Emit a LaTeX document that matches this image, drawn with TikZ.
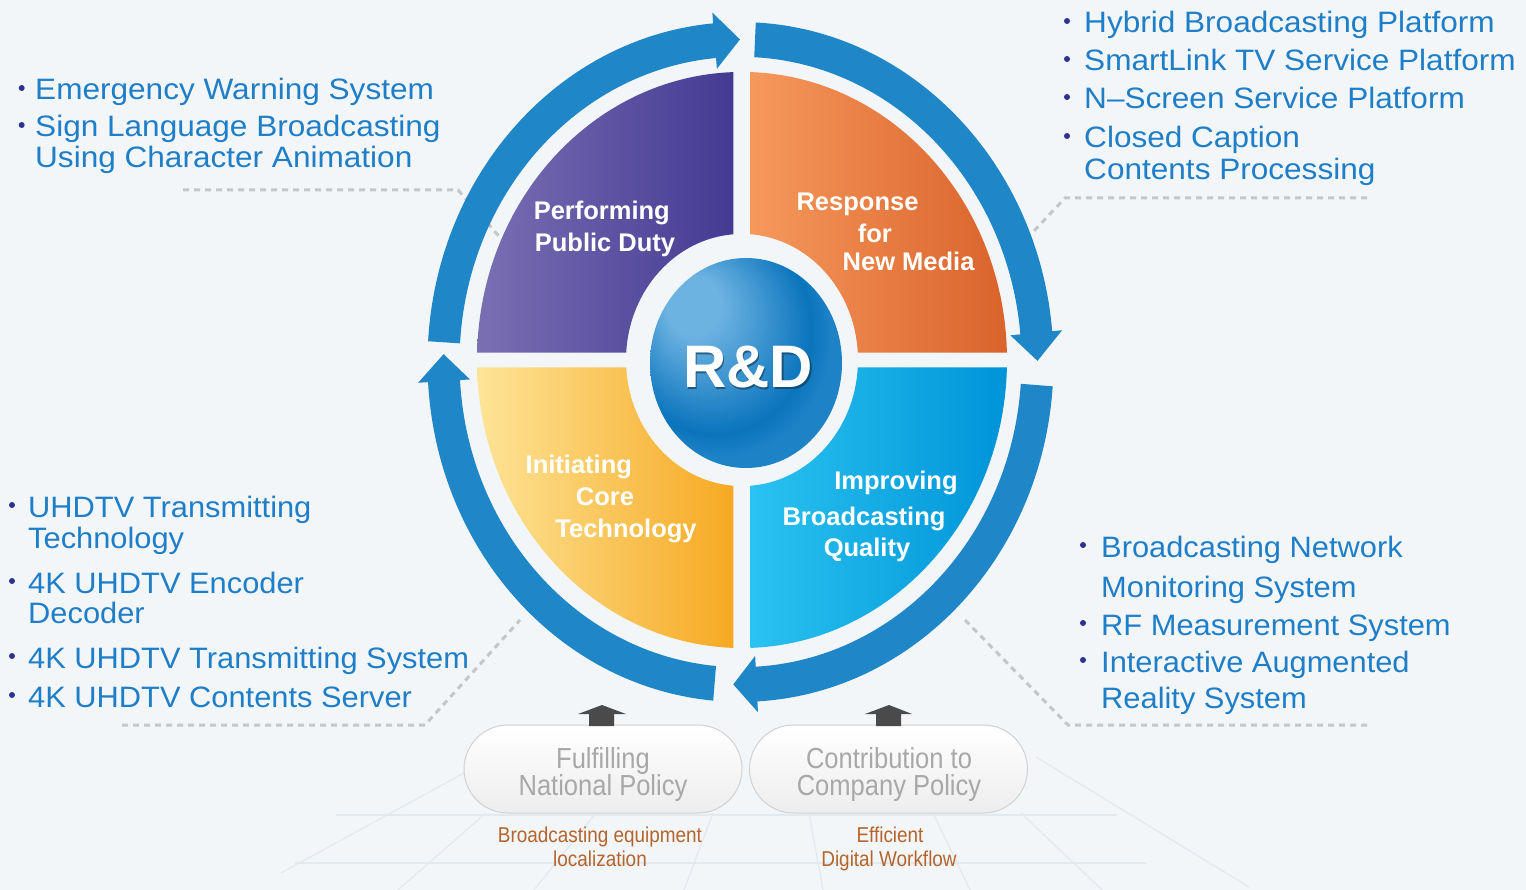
\documentclass[tikz,border=0pt]{standalone}
\usepackage{fontspec}
\setmainfont{Liberation Sans}
\newfontfamily\listfont[FakeStretch=1.07]{Liberation Sans}
\newfontfamily\listfontlow[FakeStretch=1.045]{Liberation Sans}
\newfontfamily\narrowfont[FakeStretch=0.88]{Liberation Sans}
\usetikzlibrary{calc}

\definecolor{bg}{HTML}{F2F6F9}
\definecolor{ringblue}{HTML}{1F87C8}
\definecolor{listblue}{HTML}{1E7EC8}
\definecolor{dotnavy}{HTML}{2E3192}
\definecolor{guidegrey}{HTML}{C4C6C8}
\definecolor{floorgrey}{HTML}{E4E9ED}
\definecolor{pillgrey}{HTML}{A8A8A8}
\definecolor{subbrown}{HTML}{B5652B}
\definecolor{arrowgrey}{HTML}{4A4A4A}
\definecolor{purpleL}{HTML}{7B6FB4}
\definecolor{purpleR}{HTML}{443A92}
\definecolor{orangeL}{HTML}{F6985C}
\definecolor{orangeM}{HTML}{F17524}
\definecolor{orangeR}{HTML}{D9632B}
\definecolor{cyanL}{HTML}{2AC2F0}
\definecolor{cyanM}{HTML}{00AEEA}
\definecolor{cyanR}{HTML}{0094D8}
\definecolor{yellowL}{HTML}{FDE497}
\definecolor{yellowM}{HTML}{FCC414}
\definecolor{yellowR}{HTML}{F6A922}
\definecolor{discT}{HTML}{6DB3E2}
\definecolor{discM}{HTML}{0A74BC}
\definecolor{discB}{HTML}{1E82C6}

% centre disc: light upper-left corner, deep blue body
\pgfdeclareradialshading{discshade}{\pgfpoint{-16bp}{16bp}}{%
  color(0bp)=(discT); color(7bp)=(discT); color(25bp)=(discM);
  color(29bp)=(discB); color(50bp)=(discB)}

% one clockwise segment of the outer cycle: start angle, head base angle, tip angle
\newcommand\ringarrow[3]{%
  \fill[ringblue] (#1:313) arc[start angle=#1, end angle=#2, radius=313]
    -- (#2:323) -- (#3:297) -- (#2:271) -- (#2:281)
    arc[start angle=#2, end angle=#1, radius=281] -- cycle;}

\begin{document}
\begin{tikzpicture}[x=1pt,y=-1pt,
  qlabel/.style={font=\bfseries\fontsize{25.5}{26}\selectfont, text=white, anchor=base, inner sep=0pt},
  listline/.style={font=\listfont\fontsize{29.5}{30}\selectfont, text=listblue, anchor=base west, inner sep=0pt},
  listlinelow/.style={listline, font=\listfontlow\fontsize{29.5}{30}\selectfont},
  bul/.style={fill=dotnavy},
  guide/.style={draw=guidegrey, line width=3pt, dash pattern=on 6pt off 5pt},
  floorline/.style={draw=floorgrey, line width=1.3pt},
  pillbox/.style={draw=black!18, line width=1pt, top color=white, bottom color=black!7,
    rounded corners=44pt, minimum width=278pt, minimum height=88pt, inner sep=0pt},
  pilltext/.style={font=\narrowfont\fontsize{29}{30}\selectfont, text=pillgrey, anchor=base, inner sep=0pt},
  subtext/.style={font=\narrowfont\fontsize{21.5}{22}\selectfont, text=subbrown, anchor=base, inner sep=0pt},
  uparrow/.style={fill=arrowgrey}]

\useasboundingbox (0,0) rectangle (1526,890);
\fill[bg] (0,0) rectangle (1526,890);

% perspective floor under the policy boxes
\draw[floorline] (336,815) -- (1117,815);
\draw[floorline] (295,863) -- (1146,863);
\draw[floorline] (464,773) -- (281,873);
\draw[floorline] (486,813) -- (398,890);
\draw[floorline] (596,813) -- (534,890);
\draw[floorline] (713,813) -- (684,890);
\draw[floorline] (809,813) -- (823,890);
\draw[floorline] (933,813) -- (970,890);
\draw[floorline] (1021,813) -- (1102,890);
\draw[floorline] (1036,757) -- (1249,887);

% dashed leaders from the lists towards the cycle
\coordinate (tlA) at (183,190); \coordinate (tlB) at (458,190); \coordinate (tlC) at (505,243);
\coordinate (trA) at (1367,198); \coordinate (trB) at (1065,198); \coordinate (trC) at (1033,232);
\coordinate (blA) at (122,725); \coordinate (blB) at (425,725); \coordinate (blC) at (520,620);
\coordinate (brA) at (1367,725); \coordinate (brB) at (1068,725); \coordinate (brC) at (965,620);
\draw[guide] (tlA) -- (tlB) -- (tlC);
\draw[guide] (trA) -- (trB) -- (trC);
\draw[guide] (blA) -- (blB) -- (blC);
\draw[guide] (brA) -- (brB) -- (brC);

% four quadrants
\begin{scope}[shift={(742,360)}, yscale=-1.087]
  \shade[left color=purpleL, right color=purpleR]
    (91.88:265) arc[start angle=91.88, end angle=178.55, radius=265]
    -- (176.69:116) arc[start angle=176.69, end angle=94.30, radius=116] -- cycle;
  \shade[left color=orangeL, middle color=orangeM, right color=orangeR]
    (1.45:265) arc[start angle=1.45, end angle=88.12, radius=265]
    -- (85.70:116) arc[start angle=85.70, end angle=3.31, radius=116] -- cycle;
  \shade[left color=cyanL, middle color=cyanM, right color=cyanR]
    (-88.12:265) arc[start angle=-88.12, end angle=-1.45, radius=265]
    -- (-3.31:116) arc[start angle=-3.31, end angle=-85.70, radius=116] -- cycle;
  \shade[left color=yellowL, middle color=yellowM, right color=yellowR]
    (181.45:265) arc[start angle=181.45, end angle=268.12, radius=265]
    -- (265.70:116) arc[start angle=265.70, end angle=183.31, radius=116] -- cycle;
\end{scope}

% outer cycle of arrows
\begin{scope}[shift={(740.5,362)}, yscale=-1.086]
  \ringarrow{176.5}{95}{90.1}
  \ringarrow{87.2}{5.2}{0.2}
  \ringarrow{-4.1}{-86.9}{-91.4}
  \ringarrow{-95}{-176.6}{-181.4}
\end{scope}

% centre disc
\shade[shading=discshade] (746,363) ellipse[x radius=96, y radius=105];
\node[font=\bfseries\fontsize{60}{60}\selectfont, text=black!60!ringblue, opacity=0.6, anchor=base, inner sep=0pt]
  (rdshadow) at (749.5,389.5) {R\&D};
\node[font=\bfseries\fontsize{60}{60}\selectfont, text=white, anchor=base, inner sep=0pt]
  (rd) at (748,388) {R\&D};

% quadrant labels
\node[qlabel] (pd1) at (601.8,220) {Performing};
\node[qlabel] (pd2) at (605,251.6) {Public Duty};
\node[qlabel] (nm1) at (857.5,211) {Response};
\node[qlabel] (nm2) at (874.8,243) {for};
\node[qlabel] (nm3) at (908.6,271) {New Media};
\node[qlabel] (ct1) at (578.8,473) {Initiating};
\node[qlabel] (ct2) at (605,505) {Core};
\node[qlabel] (ct3) at (626,537) {Technology};
\node[qlabel] (bq1) at (896,489) {Improving};
\node[qlabel] (bq2) at (864,525) {Broadcasting};
\node[qlabel] (bq3) at (867,556) {Quality};

% top-left list
\fill[bul] (21.7,88) circle (3); \fill[bul] (21.7,125) circle (3);
\node[listline] (tl1) at (35,100) {Emergency Warning System};
\node[listline] (tl2) at (35,137) {Sign Language Broadcasting};
\node[listline] (tl3) at (35,168) {Using Character Animation};

% top-right list
\fill[bul] (1067,21) circle (3); \fill[bul] (1067,59) circle (3);
\fill[bul] (1067,97) circle (3); \fill[bul] (1067,136) circle (3);
\node[listline] (tr1) at (1084,33) {Hybrid Broadcasting Platform};
\node[listline] (tr2) at (1084,71) {SmartLink TV Service Platform};
\node[listline] (tr3) at (1084,109) {N–Screen Service Platform};
\node[listline] (tr4) at (1084,148) {Closed Caption};
\node[listline] (tr5) at (1084,180) {Contents Processing};

% bottom-left list
\fill[bul] (12,505) circle (3); \fill[bul] (12,581) circle (3);
\fill[bul] (12,656) circle (3); \fill[bul] (12,695) circle (3);
\node[listlinelow] (bl1) at (28,517) {UHDTV Transmitting};
\node[listlinelow] (bl2) at (28,548) {Technology};
\node[listlinelow] (bl3) at (28,593) {4K UHDTV Encoder};
\node[listlinelow] (bl4) at (28,623) {Decoder};
\node[listlinelow] (bl5) at (28,668) {4K UHDTV Transmitting System};
\node[listlinelow] (bl6) at (28,707) {4K UHDTV Contents Server};

% bottom-right list
\fill[bul] (1083,545) circle (3); \fill[bul] (1083,623) circle (3);
\fill[bul] (1083,660) circle (3);
\node[listlinelow] (br1) at (1101,557) {Broadcasting Network};
\node[listlinelow] (br2) at (1101,597) {Monitoring System};
\node[listlinelow] (br3) at (1101,635) {RF Measurement System};
\node[listlinelow] (br4) at (1101,672) {Interactive Augmented};
\node[listlinelow] (br5) at (1101,708) {Reality System};

% policy boxes feeding the cycle
\node[pillbox] (np) at (603,769) {};
\node[pillbox] (cp) at (888.5,769) {};
\fill[uparrow] (589,726) -- (589,714) -- (578,714) -- (602,705) -- (626,714) -- (614,714) -- (614,726) -- cycle;
\fill[uparrow] (876,726) -- (876,714) -- (865,714) -- (889,705) -- (912,714) -- (901,714) -- (901,726) -- cycle;
\node[pilltext] (np1) at (603,768) {Fulfilling};
\node[pilltext] (np2) at (603,795) {National Policy};
\node[pilltext] (cp1) at (889,768) {Contribution to};
\node[pilltext] (cp2) at (889,795) {Company Policy};
\node[subtext] (ns1) at (600,842) {Broadcasting equipment};
\node[subtext] (ns2) at (600,866) {localization};
\node[subtext] (cs1) at (890,842) {Efficient};
\node[subtext] (cs2) at (889,866) {Digital Workflow};

\end{tikzpicture}
\end{document}
